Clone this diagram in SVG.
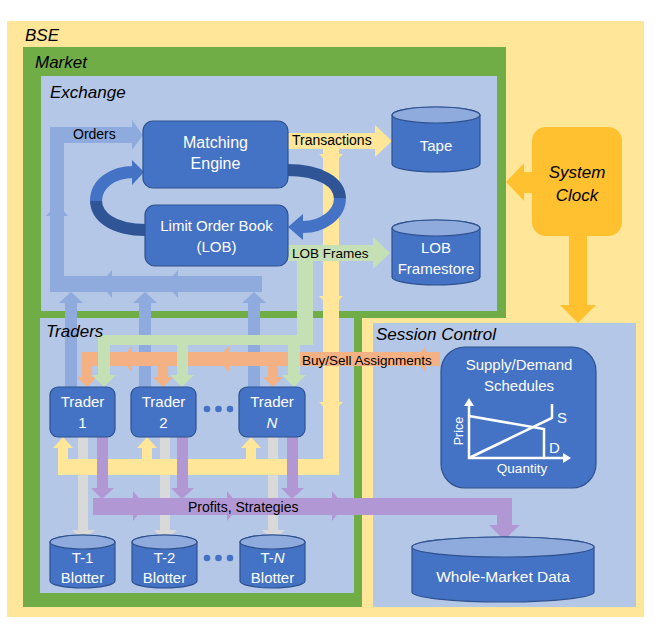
<svg xmlns="http://www.w3.org/2000/svg" width="668" height="640" viewBox="0 0 668 640">
<style>
text{font-family:"Liberation Sans",Arial,sans-serif}
.reg{font-size:17px;font-style:italic;fill:#000}
.lbl{font-size:14px;fill:#000}
.nt{font-size:15px;fill:#fff;text-anchor:middle}
.node{fill:#4472C4;stroke:#2F528F;stroke-width:1.2}
.cyltop{fill:#8FAADC;stroke:#2F528F;stroke-width:1.2}
.bl{fill:#8FAADC}.ye{fill:#FFE699}.gr{fill:#C5E0B4}.or{fill:#F4B183}.pu{fill:#B198D4}.gy{fill:#D9D9D9}.go{fill:#FFC12F}
</style>
<rect width="668" height="640" fill="#fff"/>
<g id="backgrounds">
<rect x="7" y="21" width="637" height="596" fill="#FFE699"/>
<polygon points="23,47 506,47 506,318 362,318 362,607 23,607" fill="#70AD47"/>
<rect x="41" y="76" width="456" height="235" fill="#B4C7E7"/>
<rect x="40" y="318" width="314" height="275" fill="#B4C7E7"/>
<rect x="373" y="323" width="263" height="284" fill="#B4C7E7"/>
</g>
<g id="connectors">
<g class="gy">
<rect x="78" y="437" width="10" height="94"/><polygon points="72,530 95,530 83,541"/>
<rect x="160" y="437" width="10" height="94"/><polygon points="154,530 177,530 165,541"/>
<rect x="268" y="437" width="10" height="94"/><polygon points="262,530 285,530 273,541"/>
</g>
<g class="bl">
<rect x="65" y="302" width="12" height="85"/><polygon points="59,303 83,303 71,292"/>
<rect x="139" y="302" width="12" height="85"/><polygon points="133,303 157,303 145,292"/>
<rect x="248" y="302" width="12" height="85"/><polygon points="242,303 266,303 254,292"/>
<rect x="50" y="276" width="212" height="16"/>
<rect x="50" y="127" width="14" height="165"/>
<rect x="50" y="127" width="83" height="16"/>
<polygon points="132,120 143,135 132,150"/>
<polygon points="112,270 100,284 112,298"/>
<polygon points="178,270 166,284 178,298"/>
<polygon points="46,216 57,204 68,216"/>
</g>
<g class="ye">
<rect x="288" y="133" width="88" height="16"/><polygon points="375,125 392,141 375,157"/>
<rect x="323" y="149" width="16" height="326"/>
<polygon points="319,154 343,154 331,166"/>
<polygon points="319,296 343,296 331,308"/>
<polygon points="319,402 343,402 331,414"/>
<rect x="58" y="459" width="281" height="16"/>
<rect x="58" y="447" width="10" height="14"/><polygon points="53,448 73,448 63,437"/>
<rect x="142" y="447" width="10" height="14"/><polygon points="137,448 157,448 147,437"/>
<rect x="246" y="447" width="10" height="14"/><polygon points="241,448 261,448 251,437"/>
</g>
<g class="or">
<rect x="82" y="352" width="358" height="14"/>
<rect x="82" y="365" width="10" height="13"/><polygon points="77,377 97,377 87,387"/>
<rect x="158" y="365" width="10" height="13"/><polygon points="153,377 173,377 163,387"/>
<rect x="268" y="365" width="10" height="13"/><polygon points="263,377 283,377 273,387"/>
<polygon points="132,346 120,359 132,372"/>
<polygon points="229,346 217,359 229,372"/>
<polygon points="426,346 414,359 426,372"/>
</g>
<g class="gr">
<rect x="288" y="245" width="86" height="16"/><polygon points="373,237 390,253 373,269"/>
<rect x="297" y="260" width="16" height="85"/>
<rect x="98" y="335" width="215" height="10"/>
<rect x="98" y="344" width="12" height="32"/><polygon points="92,375 116,375 104,387"/>
<rect x="177" y="344" width="11" height="32"/><polygon points="170,375 194,375 182,387"/>
<rect x="288" y="344" width="12" height="32"/><polygon points="282,375 306,375 294,387"/>
</g>
<g class="pu">
<rect x="97" y="437" width="11" height="52"/><polygon points="91,488 114,488 102,499"/>
<rect x="177" y="437" width="11" height="52"/><polygon points="171,488 194,488 182,499"/>
<rect x="287" y="437" width="11" height="52"/><polygon points="281,488 304,488 292,499"/>
<rect x="93" y="498" width="419" height="17"/>
<rect x="497" y="514" width="15" height="12"/><polygon points="489,525 520,525 504,540"/>
<polygon points="133,491 145,506 133,521"/>
<polygon points="227,491 239,506 227,521"/>
<polygon points="332,491 344,506 332,521"/>
</g>
<g class="go">
<rect x="523" y="172" width="11" height="21"/><polygon points="524,163 506,182 524,201"/>
<rect x="569" y="234" width="18" height="72"/><polygon points="560,305 596,305 578,323"/>
</g>
<g id="cycle" fill="none" stroke-width="12">
<path d="M146,230 C112,230 96,216 96,200" stroke="#2F5597"/>
<path d="M96,201 C96,184 112,172 134,172" stroke="#4472C4"/>
<polygon points="132,160 144,172 132,185" fill="#4472C4" stroke="none"/>
<path d="M287,170 C320,170 340,182 340,199" stroke="#2F5597"/>
<path d="M340,198 C340,215 322,227 303,227" stroke="#4472C4"/>
<polygon points="303,214 288,227 303,240" fill="#4472C4" stroke="none"/>
</g>
<text class="lbl" x="73" y="139">Orders</text>
<text class="lbl" x="292" y="145">Transactions</text>
<text class="lbl" x="292" y="258" style="font-size:13.5px">LOB Frames</text>
<text class="lbl" x="302" y="365" style="font-size:13.5px">Buy/Sell Assignments</text>
<text class="lbl" x="188" y="512">Profits, Strategies</text>
</g>
<g id="region-labels">
<text class="reg" x="25" y="41">BSE</text>
<text class="reg" x="35" y="68">Market</text>
<text class="reg" x="50" y="98">Exchange</text>
<text class="reg" x="46" y="337">Traders</text>
<text class="reg" x="376" y="340">Session Control</text>
</g>
<g id="matching-engine">
<rect class="node" x="143" y="121" width="145" height="67" rx="10"/>
<text class="nt" x="215.5" y="148" style="font-size:16px">Matching</text>
<text class="nt" x="215.5" y="169" style="font-size:16px">Engine</text>
</g>
<g id="lob">
<rect class="node" x="145" y="205" width="143" height="61" rx="10"/>
<text class="nt" x="216.5" y="231">Limit Order Book</text>
<text class="nt" x="216.5" y="252">(LOB)</text>
</g>
<g id="tape">
<path class="node" d="M392,115 A44,8 0 0 1 480,115 V164 A44,8 0 0 1 392,164 Z"/>
<ellipse class="cyltop" cx="436" cy="115" rx="44" ry="8"/>
<text class="nt" x="436" y="151">Tape</text>
</g>
<g id="lob-framestore">
<path class="node" d="M392,228 A44,8 0 0 1 480,228 V277 A44,8 0 0 1 392,277 Z"/>
<ellipse class="cyltop" cx="436" cy="228" rx="44" ry="8"/>
<text class="nt" x="436" y="253">LOB</text>
<text class="nt" x="436" y="274">Framestore</text>
</g>
<g id="system-clock">
<rect x="532" y="127" width="90" height="109" rx="14" fill="#FFC12F"/>
<text x="577" y="178" text-anchor="middle" style="font-size:17px;font-style:italic">System</text>
<text x="577" y="201" text-anchor="middle" style="font-size:17px;font-style:italic">Clock</text>
</g>
<g id="trader-1">
<rect class="node" x="50" y="387" width="65" height="50" rx="8"/>
<text class="nt" x="82.5" y="407">Trader</text>
<text class="nt" x="82.5" y="428">1</text>
</g>
<g id="trader-2">
<rect class="node" x="131" y="387" width="65" height="50" rx="8"/>
<text class="nt" x="163.5" y="407">Trader</text>
<text class="nt" x="163.5" y="428">2</text>
</g>
<g id="trader-dots" fill="#4472C4">
<circle cx="207" cy="409" r="3.3"/><circle cx="218.5" cy="409" r="3.3"/><circle cx="230" cy="409" r="3.3"/>
</g>
<g id="trader-n">
<rect class="node" x="239" y="387" width="66" height="50" rx="8"/>
<text class="nt" x="272" y="407">Trader</text>
<text class="nt" x="272" y="428" font-style="italic">N</text>
</g>
<g id="blotter-1">
<path class="node" d="M50,542 A32.5,7 0 0 1 115,542 V581 A32.5,7 0 0 1 50,581 Z"/>
<ellipse class="cyltop" cx="82.5" cy="542" rx="32.5" ry="7"/>
<text class="nt" x="82.5" y="563">T-1</text>
<text class="nt" x="82.5" y="583">Blotter</text>
</g>
<g id="blotter-2">
<path class="node" d="M132,542 A32.5,7 0 0 1 197,542 V581 A32.5,7 0 0 1 132,581 Z"/>
<ellipse class="cyltop" cx="164.5" cy="542" rx="32.5" ry="7"/>
<text class="nt" x="164.5" y="563">T-2</text>
<text class="nt" x="164.5" y="583">Blotter</text>
</g>
<g id="blotter-dots" fill="#4472C4">
<circle cx="207" cy="558" r="3.3"/><circle cx="218.5" cy="558" r="3.3"/><circle cx="230" cy="558" r="3.3"/>
</g>
<g id="blotter-n">
<path class="node" d="M240,542 A32.5,7 0 0 1 305,542 V581 A32.5,7 0 0 1 240,581 Z"/>
<ellipse class="cyltop" cx="272.5" cy="542" rx="32.5" ry="7"/>
<text class="nt" x="272.5" y="563">T-<tspan font-style="italic">N</tspan></text>
<text class="nt" x="272.5" y="583">Blotter</text>
</g>
<g id="whole-market-data">
<path class="node" d="M412,547 A91,10 0 0 1 594,547 V592 A91,10 0 0 1 412,592 Z"/>
<ellipse class="cyltop" cx="503" cy="547" rx="91" ry="10"/>
<text class="nt" x="503" y="582" style="font-size:15.5px">Whole-Market Data</text>
</g>
<g id="supply-demand">
<rect class="node" x="441" y="347" width="155" height="141" rx="24"/>
<text class="nt" x="519" y="370">Supply/Demand</text>
<text class="nt" x="519" y="391">Schedules</text>
<g stroke="#fff" stroke-width="2.5" fill="none">
<polyline points="469,404 469,458 565,458"/>
<polyline points="469,416 544,429 544,458"/>
<polyline points="469,458 552,418 552,404"/>
</g>
<polygon points="464,406 469,398 474,406" fill="#fff"/>
<polygon points="563,453 571,458 563,463" fill="#fff"/>
<text x="557" y="423" style="font-size:15px" fill="#fff">S</text>
<text x="549" y="453" style="font-size:15px" fill="#fff">D</text>
<text x="522" y="473" text-anchor="middle" style="font-size:13.5px" fill="#fff">Quantity</text>
<text transform="translate(463,431) rotate(-90)" text-anchor="middle" style="font-size:12.5px" fill="#fff">Price</text>
</g>
</svg>
